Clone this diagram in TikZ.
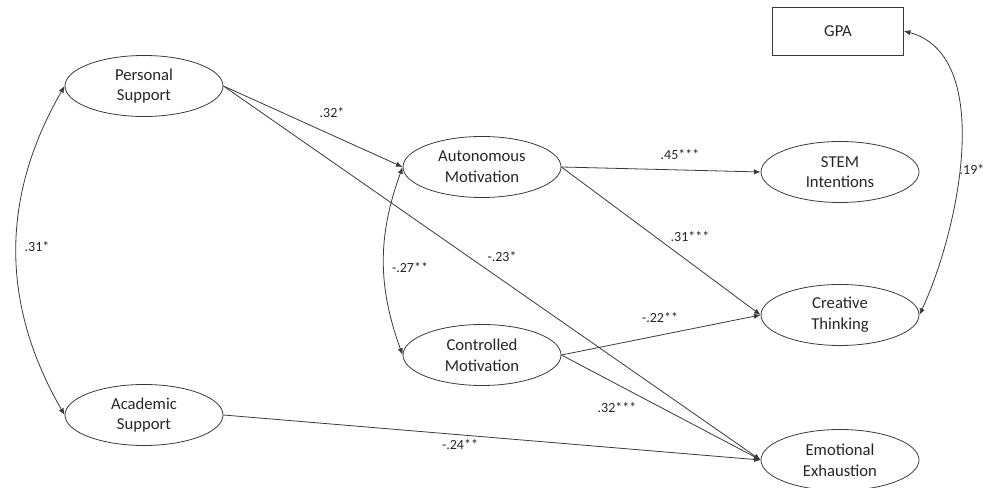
\documentclass[tikz,border=0pt]{standalone}
\usepackage{fontspec}
\setmainfont{Carlito}
\usepackage{tikz}
\usetikzlibrary{arrows.meta,shapes.geometric}
\definecolor{linec}{HTML}{3A3A3A}
\definecolor{txtc}{HTML}{262626}
\tikzset{
  ar/.style={-{Latex[length=5pt,width=4pt]},line width=0.6pt,linec},
  dar/.style={{Latex[length=5pt,width=4pt]}-{Latex[length=5pt,width=4pt]},line width=0.6pt,linec},
  lat/.style={draw=linec,line width=0.6pt,ellipse,minimum width=118.5pt,minimum height=45.75pt,inner sep=0pt,align=center,text=txtc,font=\fontsize{12.5}{15.5}\selectfont},
  obs/.style={draw=linec,line width=0.6pt,rectangle,minimum width=98pt,minimum height=36pt,text=txtc,font=\fontsize{12.5}{15.5}\selectfont},
  coef/.style={font=\fontsize{10.5}{12}\selectfont,text=txtc,inner sep=1pt}
}

\begin{document}
\begin{tikzpicture}[x=0.75pt,y=0.75pt]
\useasboundingbox (0,0) rectangle (1004,488);
% latent variables
\node[lat] (ps) at (144,402) {Personal\\Support};
\node[lat] (as) at (144,73) {Academic\\Support};
\node[lat] (am) at (482,321) {Autonomous\\Motivation};
\node[lat] (cm) at (482,133) {Controlled\\Motivation};
\node[lat] (si) at (840,316) {STEM\\Intentions};
\node[lat] (ct) at (840,173) {Creative\\Thinking};
\node[lat] (ee) at (840,28) {Emotional\\Exhaustion};
\node[obs] (gpa) at (838,457) {GPA};
% paths
\draw[ar] (ps.east) -- (am.west);
\draw[ar] (ps.east) -- (ee.west);
\draw[ar] (as.east) -- (ee.west);
\draw[ar] (am.east) -- (si.west);
\draw[ar] (am.east) -- (ct.west);
\draw[ar] (cm.east) -- (ct.west);
\draw[ar] (cm.east) -- (ee.west);
% covariances
\draw[dar] (ps.west) to[out=-120,in=120] (as.west);
\draw[dar] (am.west) to[out=-110,in=110] (cm.west);
\draw[dar] (gpa.east) to[out=-15,in=65,looseness=0.85] (ct.east);
% coefficients
\node[coef] (c1) at (332,375) {.32*};
\node[coef] (c2) at (502,231) {-.23*};
\node[coef] (c3) at (460,43) {-.24**};
\node[coef] (c4) at (680,333) {.45***};
\node[coef] (c5) at (690,251) {.31***};
\node[coef] (c6) at (660,170) {-.22**};
\node[coef] (c7) at (617,80) {.32***};
\node[coef] (c8) at (37,241) {.31*};
\node[coef] (c9) at (410,220) {-.27**};
\node[coef] (c10) at (972,318) {.19*};
\end{tikzpicture}
\end{document}
